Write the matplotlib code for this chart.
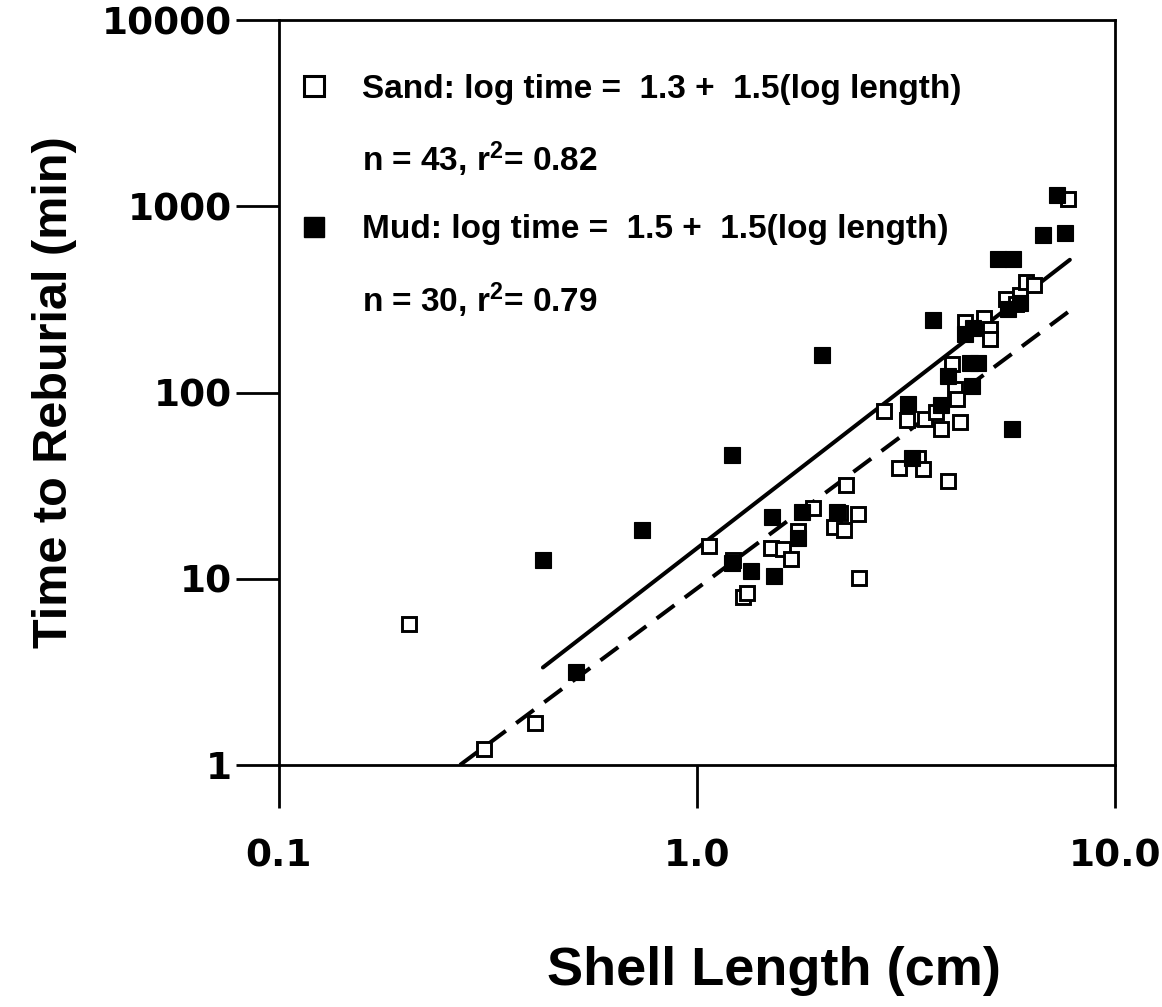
"""Shell length vs time to reburial, sand vs mud (log-log scatter with fits)."""
import matplotlib
matplotlib.use("Agg")
import matplotlib.pyplot as plt
from matplotlib.lines import Line2D

# ── Data ─────────────────────────────────────────────────────────────────
sand_length = [0.205, 0.309, 0.409, 1.07, 1.22, 1.29, 1.32, 1.50, 1.61, 1.68,
               1.74, 1.90, 2.13, 2.20, 2.25, 2.27, 2.43, 2.44, 2.80, 3.04,
               3.18, 3.38, 3.47, 3.51, 3.73, 3.84, 3.98, 4.07, 4.14, 4.19,
               4.26, 4.38, 4.86, 5.02, 5.02, 5.48, 5.80, 5.93, 6.13, 6.40,
               7.73]
sand_time = [5.71, 1.22, 1.69, 15.0, 12.6, 7.96, 8.37, 14.6, 14.5, 12.7,
             18.1, 24.1, 19.0, 22.6, 18.3, 31.9, 22.2, 10.1, 79.3, 39.1,
             71.6, 44.7, 39.0, 72.4, 78.8, 63.8, 33.5, 142, 105, 92.4,
             69.4, 239, 251, 219, 193, 317, 297, 332, 390, 380,
             1097]

mud_length = [0.428, 0.514, 0.739, 1.21, 1.21, 1.35, 1.51, 1.53, 1.74, 1.78,
              1.99, 2.16, 3.20, 3.27, 3.67, 3.84, 3.98, 4.38, 4.50, 4.55,
              4.57, 4.70, 5.25, 5.55, 5.67, 5.70, 5.93, 6.73, 7.26, 7.59]
mud_time = [12.6, 3.17, 18.2, 46.2, 12.1, 11.0, 21.4, 10.3, 16.6, 22.9,
            160, 22.8, 87.3, 44.7, 246, 85.9, 123, 206, 144, 108,
            222, 144, 520, 280, 64, 519, 301, 700, 1150, 720]

# fitted lines (end points as drawn)
sand_fit_length = [0.271, 7.85]
sand_fit_time = [1.0, 278]
mud_fit_length = [0.428, 7.80]
mud_fit_time = [3.34, 516]

legend_labels = [
    "Sand: log time =  1.3 +  1.5(log length)",
    "n = 43, r$^{2}$= 0.82",
    "Mud: log time =  1.5 +  1.5(log length)",
    "n = 30, r$^{2}$= 0.79",
]

x_ticks = [0.1, 1.0, 10.0]
x_ticklabels = ["0.1", "1.0", "10.0"]
y_ticks = [1, 10, 100, 1000, 10000]
y_ticklabels = ["1", "10", "100", "1000", "10000"]

# ── Style ────────────────────────────────────────────────────────────────
plt.rcParams["font.family"] = ["DejaVu Sans"]
plt.rcParams["font.weight"] = "bold"
plt.rcParams["mathtext.fontset"] = "custom"
plt.rcParams["mathtext.rm"] = "Liberation Sans:bold"
plt.rcParams["mathtext.it"] = "Liberation Sans:bold"
plt.rcParams["mathtext.bf"] = "Liberation Sans:bold"

label_font = ["Liberation Sans", "DejaVu Sans"]

fig = plt.figure(figsize=(11.62, 10.07), dpi=100)
ax = fig.add_axes([0.2401, 0.2403, 0.7194, 0.7398])

ax.plot(sand_length, sand_time, linestyle="none", marker="s", ms=10,
        mfc="white", mec="black", mew=2.1, zorder=3)
ax.plot(mud_length, mud_time, linestyle="none", marker="s", ms=11,
        mfc="black", mec="black", mew=0.8, zorder=3)

ax.plot(mud_fit_length, mud_fit_time, color="black", lw=2.9,
        solid_capstyle="round", zorder=2)
ax.plot(sand_fit_length, sand_fit_time, color="black", lw=2.9,
        linestyle=(0, (5.5, 3.2)), zorder=2)

ax.set_xscale("log")
ax.set_yscale("log")
ax.set_xlim(0.1, 10)
ax.set_ylim(1, 10000)

ax.set_xticks(x_ticks)
ax.set_xticklabels(x_ticklabels)
ax.set_yticks(y_ticks)
ax.set_yticklabels(y_ticklabels)
ax.minorticks_off()
ax.tick_params(axis="both", direction="out", length=31, width=2,
               labelsize=27)
ax.tick_params(axis="x", pad=22)
ax.tick_params(axis="y", pad=3)

for spine in ax.spines.values():
    spine.set_linewidth(2)

ax.set_xlabel("Shell Length (cm)", fontsize=39, fontweight="bold",
              family=label_font)
ax.xaxis.set_label_coords(0.592, -0.243)
ax.set_ylabel("Time to Reburial (min)", fontsize=35, fontweight="bold",
              family=label_font, labelpad=18)

# ── Legend: equation rows + stats rows ───────────────────────────────────
handles = [
    Line2D([], [], linestyle="none", marker="s", ms=14, mfc="white",
           mec="black", mew=2.2),
    Line2D([], [], linestyle="none"),
    Line2D([], [], linestyle="none", marker="s", ms=15, mfc="black",
           mec="black"),
    Line2D([], [], linestyle="none"),
]
ax.legend(handles, legend_labels, loc="upper left",
          bbox_to_anchor=(0.015, 0.928), frameon=False, borderpad=0,
          borderaxespad=0, handlelength=1.35, handletextpad=0.75,
          labelspacing=1.05,
          prop={"family": label_font, "weight": "bold", "size": 24})

fig.savefig("out.png", dpi=100)
